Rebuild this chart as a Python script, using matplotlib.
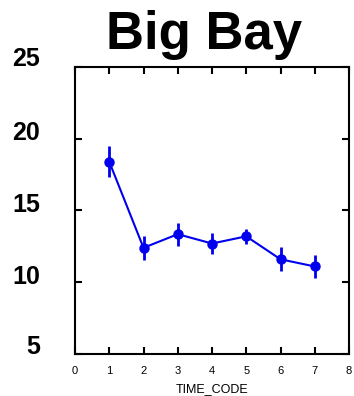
import matplotlib
matplotlib.use("Agg")
import matplotlib.pyplot as plt
from matplotlib.transforms import ScaledTranslation

time_code = [1, 2, 3, 4, 5, 6, 7]
means = [18.4, 12.4, 13.35, 12.7, 13.2, 11.6, 11.1]
errors = [1.1, 0.85, 0.8, 0.76, 0.5, 0.85, 0.77]
xticks = [0, 1, 2, 3, 4, 5, 6, 7, 8]
yticks = [5, 10, 15, 20, 25]

plt.rcParams['font.family'] = ['Liberation Sans', 'DejaVu Sans']
fig = plt.figure(figsize=(3.54, 3.96), dpi=100)
ax = fig.add_axes([75/354, 1-354/396, (349-75)/354, (354-67)/396])

ax.errorbar(time_code, means, yerr=errors, color='#0000ee', marker='o',
            markersize=6.5, lw=1.5, elinewidth=2, capsize=0)
ax.set_xlim(0, 8)
ax.set_ylim(5, 25)
ax.set_xticks(xticks)
ax.set_yticks(yticks)
ax.set_yticklabels([str(v) for v in yticks], fontsize=18, fontweight='bold')
ax.set_xticklabels([str(v) for v in xticks], fontsize=8)
ax.tick_params(axis='both', direction='in', length=5, width=1.5,
               top=True, right=True)
ax.tick_params(axis='y', pad=25)
ax.tick_params(axis='x', pad=9)
for s in ax.spines.values():
    s.set_linewidth(1.5)
shifts = [9, 8, 8, 8, 10]
for lab, sh in zip(ax.get_yticklabels(), shifts):
    lab.set_transform(lab.get_transform() + ScaledTranslation(0, sh/100, fig.dpi_scale_trans))
ax.set_xlabel('TIME_CODE', fontsize=9, labelpad=5)
fig.text(204/354, 1-35/396, 'Big Bay', fontsize=38, fontweight='bold',
         ha='center', va='center')
fig.savefig('out.png', dpi=100)
